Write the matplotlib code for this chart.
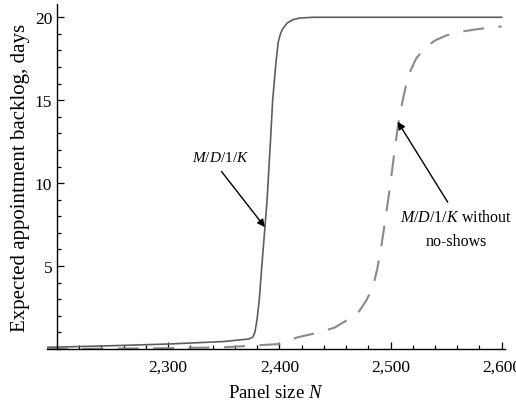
import matplotlib
matplotlib.use("Agg")
import matplotlib.pyplot as plt
from matplotlib.ticker import MultipleLocator, FuncFormatter

plt.rcParams['font.family'] = ['Liberation Serif', 'DejaVu Serif']
plt.rcParams['mathtext.fontset'] = 'custom'
plt.rcParams['mathtext.rm'] = 'Liberation Serif'
plt.rcParams['mathtext.it'] = 'Liberation Serif:italic'
plt.rcParams['mathtext.bf'] = 'Liberation Serif:bold'

# M/D/1/K curve (solid)
n_mdk = [2191, 2250, 2300, 2350, 2372, 2376, 2378, 2380, 2382, 2384, 2387, 2389,
         2392, 2394, 2397, 2399, 2401, 2403, 2407, 2412, 2418, 2430, 2600]
backlog_mdk = [0.1, 0.2, 0.3, 0.45, 0.6, 0.7, 1.0, 1.8, 3.0, 4.8, 7.3, 9.0,
               12.5, 15.0, 17.3, 18.5, 19.0, 19.3, 19.65, 19.85, 19.95, 20.0, 20.0]

# M/D/1/K without no-shows (dashed)
n_noshow = [2191, 2250, 2300, 2350, 2400, 2416, 2436, 2450, 2460, 2470, 2478, 2484,
            2488, 2492, 2496, 2500, 2503, 2507, 2511, 2516, 2523, 2530, 2540, 2550,
            2560, 2570, 2580, 2600]
backlog_noshow = [0.0, 0.02, 0.05, 0.1, 0.3, 0.7, 1.0, 1.3, 1.7, 2.1, 2.9, 3.7,
                  4.8, 6.3, 8.1, 10.0, 11.6, 13.6, 15.0, 16.5, 17.5, 18.1, 18.6, 18.9,
                  19.1, 19.2, 19.3, 19.45]

x_ticks = [2300, 2400, 2500, 2600]
y_ticks = [5, 10, 15, 20]

fig = plt.figure(figsize=(5.16, 4.06), dpi=100)
ax = fig.add_axes([47 / 516, 56 / 406, 458 / 516, 345 / 406])

ax.plot(n_mdk, backlog_mdk, color='#5e5e5e', lw=1.2)
ax.plot(n_noshow, backlog_noshow, color='#8a8a8a', lw=1.5, dashes=(10, 7))

ax.set_xlim(2191, 2603)
ax.set_ylim(0, 20.8)

for s in ['top', 'right']:
    ax.spines[s].set_visible(False)
ax.spines['left'].set_position(('data', 2200))
ax.spines['left'].set_linewidth(1.0)
ax.spines['bottom'].set_linewidth(1.0)

ax.set_xticks(x_ticks)
ax.set_yticks(y_ticks)
ax.xaxis.set_minor_locator(MultipleLocator(20))
ax.yaxis.set_minor_locator(MultipleLocator(1))
ax.xaxis.set_major_formatter(FuncFormatter(lambda v, p: f'{int(v):,}'))
ax.tick_params(which='both', direction='in', labelsize=12.5, width=0.9)
ax.tick_params(axis='x', pad=7)
ax.tick_params(which='major', length=5)
ax.tick_params(which='minor', length=3)

ax.set_xlabel('Panel size $N$', fontsize=13.5, labelpad=7)
ax.set_ylabel('Expected appointment backlog, days', fontsize=15)
ax.yaxis.set_label_coords(-0.037, 0.5)

# arrows
ax.annotate('', xy=(2387, 7.35), xytext=(2348, 10.7),
            arrowprops=dict(arrowstyle='-|>', color='black', lw=1.0,
                            mutation_scale=11, shrinkA=0, shrinkB=0))
ax.annotate('', xy=(2506.5, 13.7), xytext=(2551.5, 8.85),
            arrowprops=dict(arrowstyle='-|>', color='black', lw=1.0,
                            mutation_scale=11, shrinkA=0, shrinkB=0))

ax.text(2347, 11.55, r'$\mathbf{\mathit{M/D/1/K}}$', fontsize=11,
        ha='center', va='center')
ax.text(2559, 7.25, '$\\mathit{M/D/1/K}$ without\nno-shows', fontsize=11.5,
        ha='center', va='center', linespacing=1.7)

fig.savefig('out.png', dpi=100)
